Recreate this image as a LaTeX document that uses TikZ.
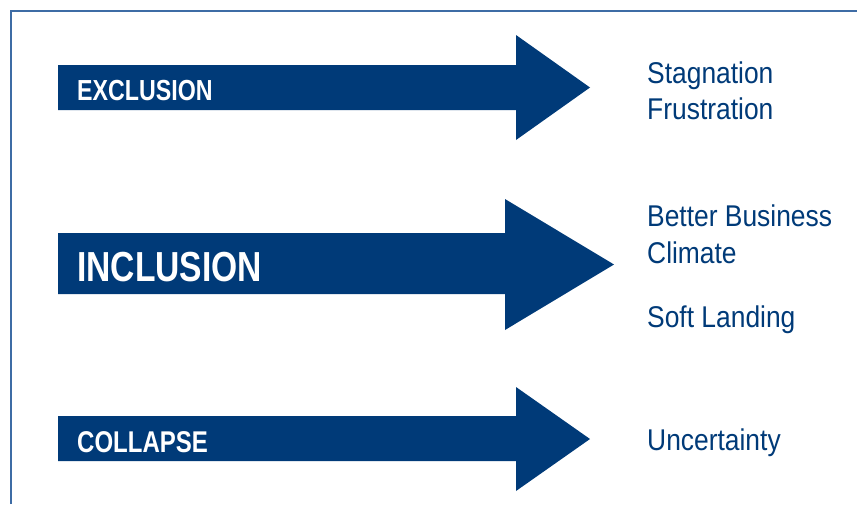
\documentclass[tikz,border=0pt]{standalone}
\usepackage{fontspec}
\setmainfont{Liberation Sans}
\newfontfamily\narrowfont{Liberation Sans}[FakeStretch=0.88]
\newfontfamily\tagfont{Liberation Sans}[FakeStretch=0.8]
\usepackage{tikz}
\usetikzlibrary{calc}

\definecolor{navy}{RGB}{0,58,120}
\definecolor{frameblue}{RGB}{62,108,165}

\tikzset{
	bigarrow/.style={fill=navy,draw=none},
	tag/.style={anchor=base west,inner sep=0pt,text=white},
	outcome/.style={anchor=base west,inner sep=0pt,text=navy,font=\narrowfont\fontsize{30}{36}\selectfont}
}

\begin{document}
\begin{tikzpicture}[x=1pt,y=-1pt]
% the page
\useasboundingbox (0,0) rectangle (857,504);

% the frame (only left and top show)
\draw[frameblue,line width=1.3pt] (11,504) -- (11,11) -- (857,11);

% draw the three arrows with their words
\foreach \name/\shafttop/\shaftbot/\headtop/\headbot/\neckx/\tipx/\word/\size/\base in {
	excl/65/110/35/140/516/590/EXCLUSION/29/100,
	incl/233/294/199/330/505/614/INCLUSION/42/281,
	coll/416/461/387/491/516/590/COLLAPSE/30/452}
{
	% the arrow itself
	\fill[bigarrow] (58,\shafttop) -- (\neckx,\shafttop) -- (\neckx,\headtop)
		-- (\tipx,{(\headtop+\headbot)/2}) -- (\neckx,\headbot)
		-- (\neckx,\shaftbot) -- (58,\shaftbot) -- cycle;
	% the word inside it
	\node[tag,font={\tagfont\bfseries\fontsize{\size}{\size}\selectfont}] (\name) at (77,\base) {\word};
}

% what each arrow leads to
\node[outcome] (stag)    at (647,83)  {Stagnation};
\node[outcome] (frus)    at (647,119) {Frustration};
\node[outcome] (better)  at (647,226) {Better Business};
\node[outcome] (climate) at (647,263) {Climate};
\node[outcome] (soft)    at (647,327) {Soft Landing};
\node[outcome] (unc)     at (647,450) {Uncertainty};
\end{tikzpicture}
\end{document}
